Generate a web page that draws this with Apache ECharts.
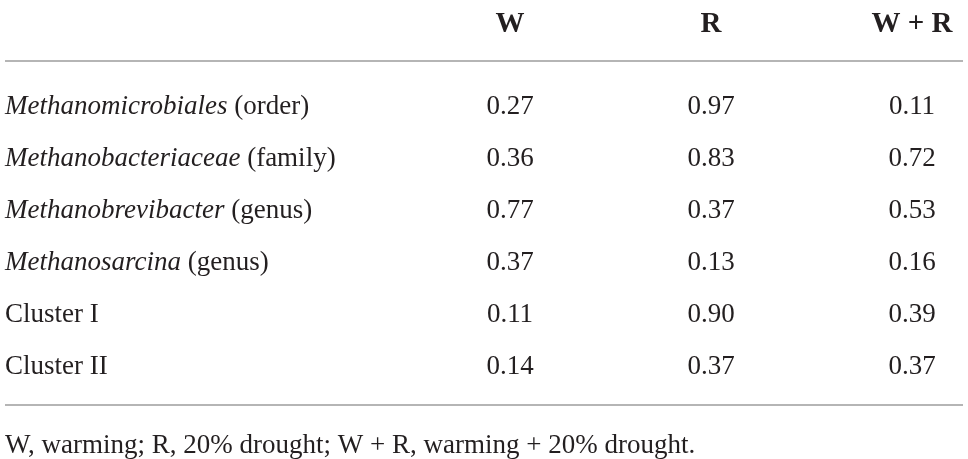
<!DOCTYPE html>
<html>
<head>
<meta charset="utf-8">
<script src="https://cdn.jsdelivr.net/npm/echarts@6/dist/echarts.min.js"></script>
<style>
  html, body { margin: 0; padding: 0; background: #fff; }
  #chart { width: 968px; height: 459px; }
</style>
</head>
<body>
<div id="chart"></div>
<script>
// table data
const columns = ["W", "R", "W + R"];
const taxa = ["Methanomicrobiales", "Methanobacteriaceae", "Methanobrevibacter", "Methanosarcina", "Cluster I", "Cluster II"];
const ranks = ["order", "family", "genus", "genus", "", ""];
const valuesW = [0.27, 0.36, 0.77, 0.37, 0.11, 0.14];
const valuesR = [0.97, 0.83, 0.37, 0.13, 0.90, 0.37];
const valuesWR = [0.11, 0.72, 0.53, 0.16, 0.39, 0.37];
const footnote = "W, warming; R, 20% drought; W + R, warming + 20% drought.";

const FONT = "Liberation Serif";
const INK = "#231f20";
const RULE = "#9d9d9d";

const rowLabels = taxa.map((t, i) => ranks[i] ? t + " (" + ranks[i] + ")" : t);

// one custom series per column, each cell is a text placed through the axes
const cellSeries = [valuesW, valuesR, valuesWR].map((vals, c) => ({
    type: "custom",
    name: columns[c],
    silent: true,
    data: vals.map((v, r) => [c, r, v]),
    renderItem: (params, api) => {
        const pt = api.coord([api.value(0), api.value(1)]);
        return {
            type: "text",
            x: pt[0],
            y: pt[1],
            style: {
                text: api.value(2).toFixed(2),
                fill: INK,
                font: "27px '" + FONT + "'",
                align: "center",
                verticalAlign: "middle"
            }
        };
    }
}));

const chart = echarts.init(document.getElementById("chart"));
chart.setOption({
    animation: false,
    backgroundColor: "#fff",
    title: {
        text: footnote,
        left: 5,
        top: 432,
        padding: 0,
        textStyle: { color: INK, fontFamily: FONT, fontSize: 27, fontWeight: "normal" }
    },
    grid: { left: 510, right: 56, top: 81, bottom: 66 },
    xAxis: {
        type: "category",
        position: "top",
        data: columns,
        boundaryGap: false,
        axisLine: { show: false },
        axisTick: { show: false },
        splitLine: { show: false },
        axisLabel: {
            margin: 42,
            color: INK,
            fontFamily: FONT,
            fontSize: 29,
            fontWeight: "bold"
        }
    },
    yAxis: {
        type: "category",
        inverse: true,
        data: rowLabels,
        axisLine: { show: false },
        axisTick: { show: false },
        splitLine: { show: false },
        axisLabel: {
            align: "left",
            margin: 505,
            color: INK,
            fontFamily: FONT,
            fontSize: 27,
            formatter: (val, i) => {
                const italic = ranks[i] !== "";
                if (!italic) return "{n|" + val + "}";
                return "{i|" + taxa[i] + "}{n| (" + ranks[i] + ")}";
            },
            rich: {
                i: { fontStyle: "italic", fontFamily: FONT, fontSize: 27, color: INK },
                n: { fontFamily: FONT, fontSize: 27, color: INK }
            }
        }
    },
    graphic: [
        { type: "line", shape: { x1: 5, y1: 61, x2: 963, y2: 61 }, style: { stroke: RULE, lineWidth: 1.5 } },
        { type: "line", shape: { x1: 5, y1: 405, x2: 963, y2: 405 }, style: { stroke: RULE, lineWidth: 1.5 } }
    ],
    series: cellSeries
});
</script>
</body>
</html>
